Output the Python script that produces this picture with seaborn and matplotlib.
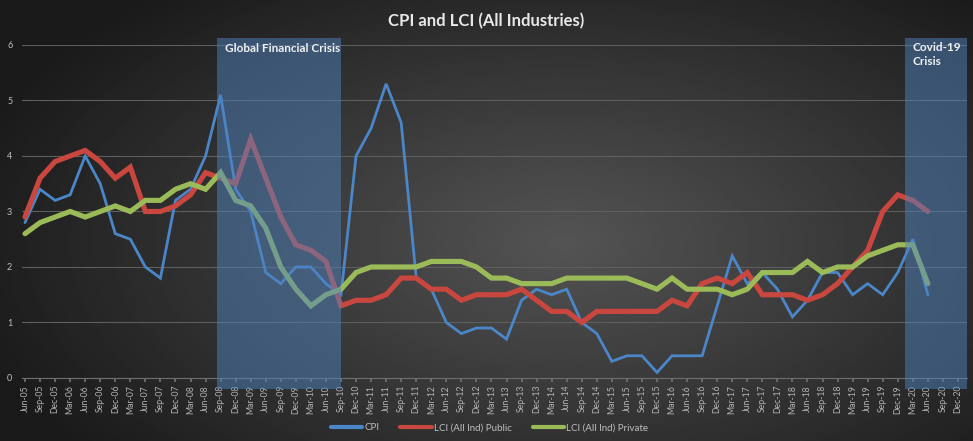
import numpy as np
import pandas as pd
import matplotlib.pyplot as plt
from matplotlib.lines import Line2D
import seaborn as sns

# Quarter labels Jun-05 .. Dec-20
years = range(2005, 2021)
months = ["Mar", "Jun", "Sep", "Dec"]
quarters = [f"{m}-{str(y)[2:]}" for y in years for m in months][1:]

# Annual % change, Jun-05 .. Jun-20
cpi = [2.8, 3.4, 3.2, 3.3, 4.0, 3.5, 2.6, 2.5, 2.0, 1.8,
       3.2, 3.4, 4.0, 5.1, 3.4, 3.0, 1.9, 1.7, 2.0, 2.0,
       1.7, 1.5, 4.0, 4.5, 5.3, 4.6, 1.8, 1.6, 1.0, 0.8,
       0.9, 0.9, 0.7, 1.4, 1.6, 1.5, 1.6, 1.0, 0.8, 0.3,
       0.4, 0.4, 0.1, 0.4, 0.4, 0.4, 1.3, 2.2, 1.7, 1.9,
       1.6, 1.1, 1.4, 1.9, 1.9, 1.5, 1.7, 1.5, 1.9, 2.5,
       1.5]
lci_public = [2.9, 3.6, 3.9, 4.0, 4.1, 3.9, 3.6, 3.8, 3.0, 3.0,
              3.1, 3.3, 3.7, 3.6, 3.5, 4.3, 3.6, 2.9, 2.4, 2.3,
              2.1, 1.3, 1.4, 1.4, 1.5, 1.8, 1.8, 1.6, 1.6, 1.4,
              1.5, 1.5, 1.5, 1.6, 1.4, 1.2, 1.2, 1.0, 1.2, 1.2,
              1.2, 1.2, 1.2, 1.4, 1.3, 1.7, 1.8, 1.7, 1.9, 1.5,
              1.5, 1.5, 1.4, 1.5, 1.7, 2.0, 2.3, 3.0, 3.3, 3.2,
              3.0]
lci_private = [2.6, 2.8, 2.9, 3.0, 2.9, 3.0, 3.1, 3.0, 3.2, 3.2,
               3.4, 3.5, 3.4, 3.7, 3.2, 3.1, 2.7, 2.0, 1.6, 1.3,
               1.5, 1.6, 1.9, 2.0, 2.0, 2.0, 2.0, 2.1, 2.1, 2.1,
               2.0, 1.8, 1.8, 1.7, 1.7, 1.7, 1.8, 1.8, 1.8, 1.8,
               1.8, 1.7, 1.6, 1.8, 1.6, 1.6, 1.6, 1.5, 1.6, 1.9,
               1.9, 1.9, 2.1, 1.9, 2.0, 2.0, 2.2, 2.3, 2.4, 2.4,
               1.7]

series_names = ["CPI", "LCI (All Ind) Public", "LCI (All Ind) Private"]
series_colors = ["#4a86c8", "#c9473f", "#9bbb59"]
series_widths = [2.0, 3.7, 3.7]

n = len(cpi)
df = pd.DataFrame({"pos": range(n), "quarter": quarters[:n],
                   series_names[0]: cpi,
                   series_names[1]: lci_public,
                   series_names[2]: lci_private})

sns.set_theme(style="dark")
plt.rcParams["font.family"] = ["Lato", "DejaVu Sans"]

fig = plt.figure(figsize=(9.73, 4.41), dpi=100)

# dark radial gradient background
bg = fig.add_axes([0, 0, 1, 1], zorder=-10)
yy, xx = np.mgrid[0:1:220j, 0:1:480j]
r = np.sqrt(((xx - 0.58) * 1.0) ** 2 + ((yy - 0.45) * 0.85) ** 2)
shade = 84 - 58 * np.clip(r / 0.64, 0, 1)
bg.imshow(shade, cmap="gray", vmin=0, vmax=255, aspect="auto",
          extent=[0, 1, 0, 1], origin="lower")
bg.set_axis_off()

ax = fig.add_axes([0.0226, 0.1429, 0.9712, 0.7551])
ax.patch.set_alpha(0)

for i, name in enumerate(series_names):
    sns.lineplot(data=df, x="pos", y=name, ax=ax, color=series_colors[i],
                 linewidth=series_widths[i], zorder=2 + i,
                 solid_joinstyle="miter")

# crisis shading
for start, end in [(12.75, 21.0), (58.5, 62.6)]:
    ax.axvspan(start, end, ymin=-0.033, ymax=1.021, color="#4f81bd",
               alpha=0.5, lw=0, zorder=6, clip_on=False)

ax.set_xlim(-0.2, 62.6)
ax.set_ylim(0, 6)
ax.set_xticks(range(len(quarters)))
ax.set_xticklabels(quarters, rotation=90, fontsize=6.2, color="#b5b5b5")
ax.set_yticks(range(7))
ax.set_yticklabels([str(v) for v in range(7)], fontsize=6.5, color="#bfbfbf")
ax.tick_params(axis="x", length=3, color="#707070", pad=2, bottom=True)
ax.tick_params(axis="y", length=0, pad=7)
ax.grid(axis="y", color="#5e5e5e", linewidth=0.8)
ax.grid(axis="x", visible=False)
for side in ["top", "right", "left"]:
    ax.spines[side].set_visible(False)
ax.spines["bottom"].set_color("#6e6e6e")
ax.spines["bottom"].set_linewidth(0.8)
ax.set_xlabel("")
ax.set_ylabel("")

fig.text(0.5, 0.953, "CPI and LCI (All Industries)", ha="center", va="center",
         fontsize=12, fontweight="bold", color="#e8e8e8")
fig.text(0.231, 0.891, "Global Financial Crisis", ha="left", va="center",
         fontsize=8.5, fontweight="bold", color="#f2f2f2", zorder=10)
fig.text(0.938, 0.905, "Covid-19\nCrisis", ha="left", va="top",
         fontsize=8.5, fontweight="bold", color="#f2f2f2", linespacing=1.35,
         zorder=10)

handles = [Line2D([0], [0], color=c, lw=3) for c in series_colors]
fig.legend(handles, series_names, loc="center", bbox_to_anchor=(0.503, 0.03),
           ncol=3, frameon=False, fontsize=7, labelcolor="#bfbfbf",
           handlelength=3.2, handletextpad=0.2, columnspacing=2.2)

fig.savefig("out.png", dpi=100)
